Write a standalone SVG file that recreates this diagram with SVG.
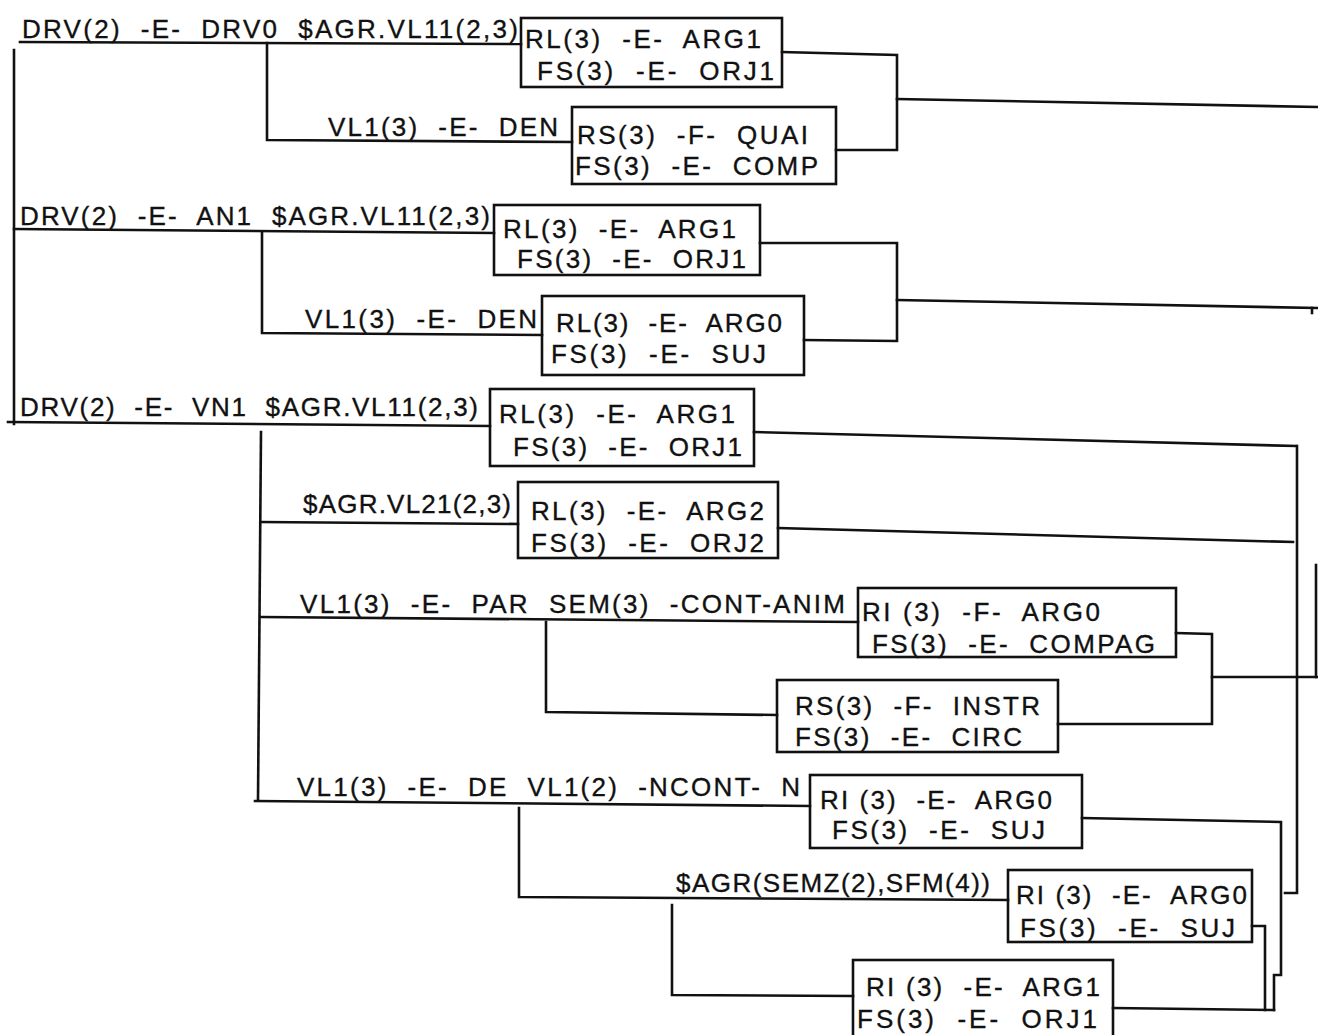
<svg xmlns="http://www.w3.org/2000/svg" width="1318" height="1035" viewBox="0 0 1318 1035">
<style>
  .bg{fill:#fff}
  .box{fill:none;stroke:#111;stroke-width:2.6}
  .ln{fill:none;stroke:#111;stroke-width:2.6;stroke-linecap:square}
  text{font-family:"Liberation Sans",Arial,sans-serif;font-size:26px;fill:#111;stroke:#111;stroke-width:0.35;white-space:pre}
</style>
<rect class="bg" x="0" y="0" width="1318" height="1035"/>
<g id="connectors">
  <path class="ln" d="M14,50 L14,424"/>
  <path class="ln" d="M20,42 L521,44"/>
  <path class="ln" d="M267,43 L267,140 L572,142"/>
  <path class="ln" d="M782,52 L897,55 L897,150 L836,150"/>
  <path class="ln" d="M897,99 L1318,107"/>
  <path class="ln" d="M14,229 L494,233"/>
  <path class="ln" d="M262,233 L262,333 L542,335"/>
  <path class="ln" d="M760,243 L897,243 L897,341 L804,340"/>
  <path class="ln" d="M897,300 L1318,308"/>
  <path class="ln" d="M1312,308 L1312,313"/>
  <path class="ln" d="M8,422 L490,426"/>
  <path class="ln" d="M261,432 L258,800"/>
  <path class="ln" d="M754,432 L1296,446"/>
  <path class="ln" d="M1297,446 L1297,893 L1285,893"/>
  <path class="ln" d="M261,522 L518,524"/>
  <path class="ln" d="M778,528 L1293,542"/>
  <path class="ln" d="M261,617 L858,622"/>
  <path class="ln" d="M546,622 L546,712 L777,715"/>
  <path class="ln" d="M1176,633 L1212,634 L1212,724 L1058,724"/>
  <path class="ln" d="M1212,677 L1318,677"/>
  <path class="ln" d="M1316,565 L1316,677"/>
  <path class="ln" d="M255,801 L810,806"/>
  <path class="ln" d="M519,808 L519,897 L1008,900"/>
  <path class="ln" d="M672,905 L672,995 L853,996"/>
  <path class="ln" d="M1082,818 L1281,822 L1281,975 L1274,975 L1274,1010"/>
  <path class="ln" d="M1252,926 L1265,926 L1265,1010"/>
  <path class="ln" d="M1113,1008 L1274,1010"/>
</g>
<g id="label1"><text xml:space="preserve" x="22" y="38" textLength="496" lengthAdjust="spacing">DRV(2)  -E-  DRV0  $AGR.VL11(2,3)</text></g>
<g id="box1">
  <rect class="box" x="521" y="18" width="261" height="69"/>
  <text xml:space="preserve" x="525" y="48" textLength="236" lengthAdjust="spacing">RL(3)  -E-  ARG1</text>
  <text xml:space="preserve" x="537" y="80" textLength="237" lengthAdjust="spacing">FS(3)  -E-  ORJ1</text>
</g>
<g id="label2"><text xml:space="preserve" x="328" y="136" textLength="230" lengthAdjust="spacing">VL1(3)  -E-  DEN</text></g>
<g id="box2">
  <rect class="box" x="572" y="107" width="264" height="77"/>
  <text xml:space="preserve" x="577" y="144" textLength="231" lengthAdjust="spacing">RS(3)  -F-  QUAI</text>
  <text xml:space="preserve" x="575" y="175" textLength="243" lengthAdjust="spacing">FS(3)  -E-  COMP</text>
</g>
<g id="label3"><text xml:space="preserve" x="20" y="225" textLength="470" lengthAdjust="spacing">DRV(2)  -E-  AN1  $AGR.VL11(2,3)</text></g>
<g id="box3">
  <rect class="box" x="494" y="205" width="266" height="70"/>
  <text xml:space="preserve" x="503" y="238" textLength="233" lengthAdjust="spacing">RL(3)  -E-  ARG1</text>
  <text xml:space="preserve" x="517" y="268" textLength="229" lengthAdjust="spacing">FS(3)  -E-  ORJ1</text>
</g>
<g id="label4"><text xml:space="preserve" x="305" y="328" textLength="232" lengthAdjust="spacing">VL1(3)  -E-  DEN</text></g>
<g id="box4">
  <rect class="box" x="542" y="296" width="262" height="79"/>
  <text xml:space="preserve" x="556" y="332" textLength="226" lengthAdjust="spacing">RL(3)  -E-  ARG0</text>
  <text xml:space="preserve" x="551" y="363" textLength="215" lengthAdjust="spacing">FS(3)  -E-  SUJ</text>
</g>
<g id="label5"><text xml:space="preserve" x="20" y="416" textLength="458" lengthAdjust="spacing">DRV(2)  -E-  VN1  $AGR.VL11(2,3)</text></g>
<g id="box5">
  <rect class="box" x="490" y="389" width="264" height="77"/>
  <text xml:space="preserve" x="499" y="423" textLength="236" lengthAdjust="spacing">RL(3)  -E-  ARG1</text>
  <text xml:space="preserve" x="513" y="456" textLength="229" lengthAdjust="spacing">FS(3)  -E-  ORJ1</text>
</g>
<g id="label6"><text xml:space="preserve" x="303" y="513" textLength="208" lengthAdjust="spacing">$AGR.VL21(2,3)</text></g>
<g id="box6">
  <rect class="box" x="518" y="482" width="260" height="76"/>
  <text xml:space="preserve" x="531" y="520" textLength="233" lengthAdjust="spacing">RL(3)  -E-  ARG2</text>
  <text xml:space="preserve" x="531" y="552" textLength="233" lengthAdjust="spacing">FS(3)  -E-  ORJ2</text>
</g>
<g id="label7"><text xml:space="preserve" x="300" y="613" textLength="545" lengthAdjust="spacing">VL1(3)  -E-  PAR  SEM(3)  -CONT-ANIM</text></g>
<g id="box7">
  <rect class="box" x="858" y="588" width="318" height="69"/>
  <text xml:space="preserve" x="862" y="621" textLength="238" lengthAdjust="spacing">RI (3)  -F-  ARG0</text>
  <text xml:space="preserve" x="872" y="653" textLength="283" lengthAdjust="spacing">FS(3)  -E-  COMPAG</text>
</g>
<g id="box8">
  <rect class="box" x="777" y="680" width="281" height="72"/>
  <text xml:space="preserve" x="795" y="715" textLength="245" lengthAdjust="spacing">RS(3)  -F-  INSTR</text>
  <text xml:space="preserve" x="795" y="746" textLength="227" lengthAdjust="spacing">FS(3)  -E-  CIRC</text>
</g>
<g id="label9"><text xml:space="preserve" x="297" y="796" textLength="503" lengthAdjust="spacing">VL1(3)  -E-  DE  VL1(2)  -NCONT-  N</text></g>
<g id="box9">
  <rect class="box" x="810" y="775" width="272" height="73"/>
  <text xml:space="preserve" x="820" y="809" textLength="232" lengthAdjust="spacing">RI (3)  -E-  ARG0</text>
  <text xml:space="preserve" x="832" y="839" textLength="213" lengthAdjust="spacing">FS(3)  -E-  SUJ</text>
</g>
<g id="label10"><text xml:space="preserve" x="676" y="892" textLength="314" lengthAdjust="spacing">$AGR(SEMZ(2),SFM(4))</text></g>
<g id="box10">
  <rect class="box" x="1008" y="870" width="244" height="72"/>
  <text xml:space="preserve" x="1016" y="904" textLength="231" lengthAdjust="spacing">RI (3)  -E-  ARG0</text>
  <text xml:space="preserve" x="1020" y="937" textLength="215" lengthAdjust="spacing">FS(3)  -E-  SUJ</text>
</g>
<g id="box11">
  <rect class="box" x="853" y="960" width="260" height="80"/>
  <text xml:space="preserve" x="866" y="996" textLength="234" lengthAdjust="spacing">RI (3)  -E-  ARG1</text>
  <text xml:space="preserve" x="857" y="1028" textLength="240" lengthAdjust="spacing">FS(3)  -E-  ORJ1</text>
</g>
</svg>
